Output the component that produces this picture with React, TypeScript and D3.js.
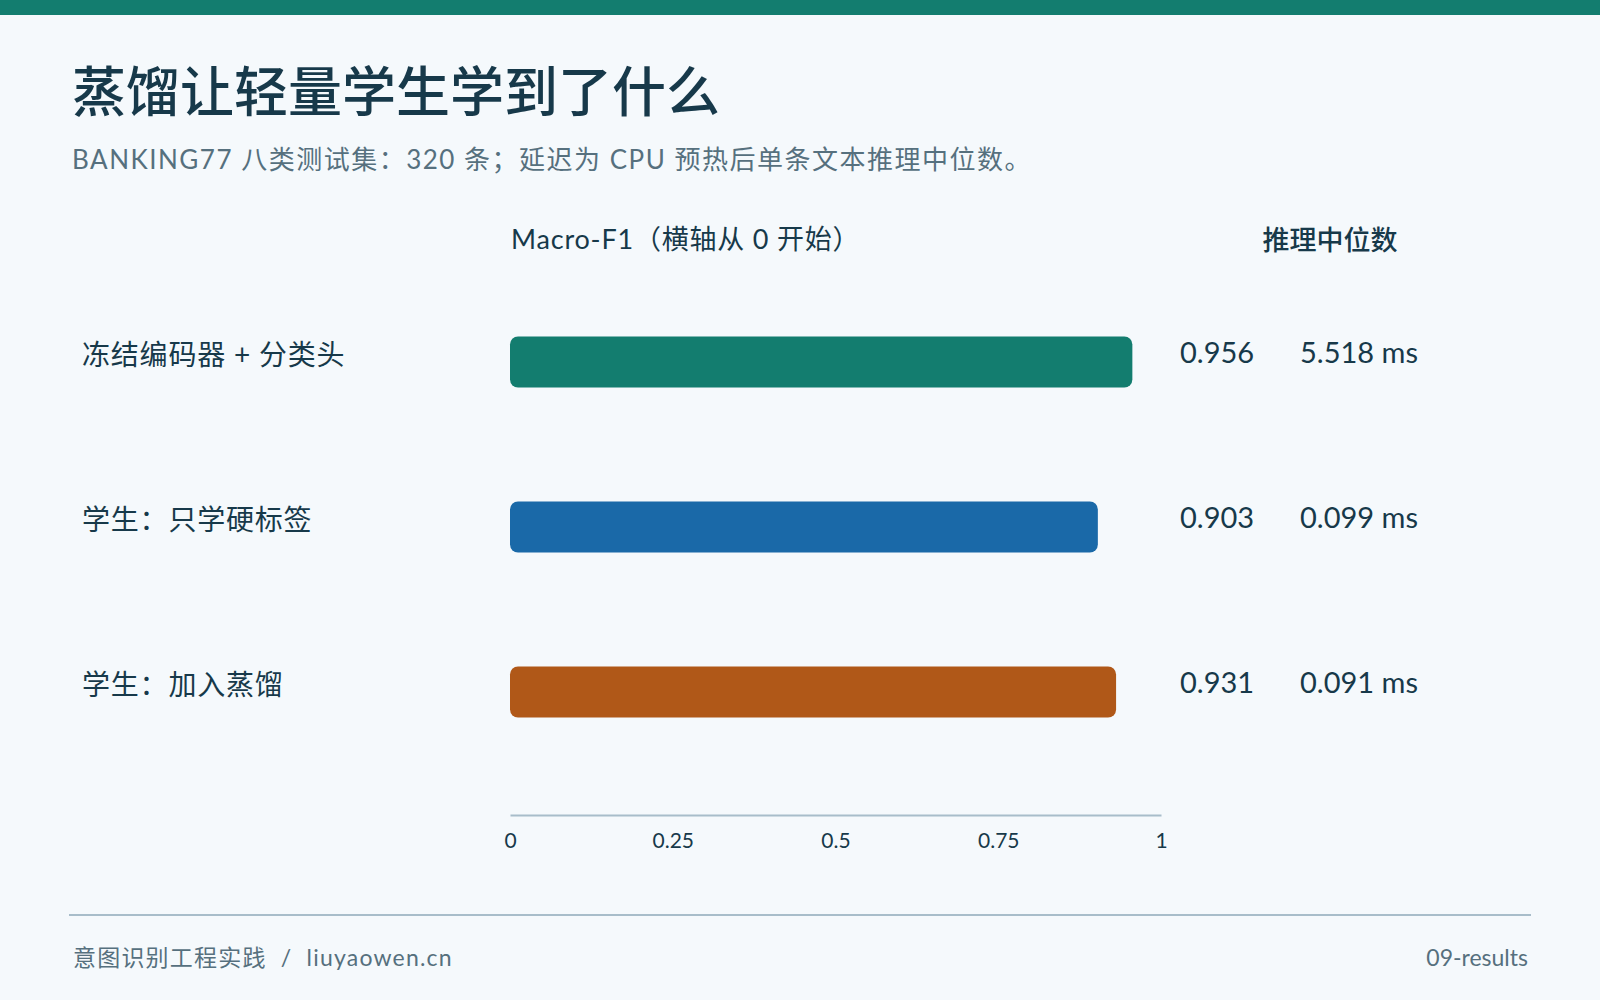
import { useEffect, useRef } from "react";
import * as d3 from "d3";

const categories = ["冻结编码器 + 分类头", "学生：只学硬标签", "学生：加入蒸馏"];
const macroF1 = [0.956, 0.903, 0.931];
const latencyMs = [5.518, 0.099, 0.091];
const barColors = ["#137d6f", "#1a69a8", "#b05818"];
const tickValues = [0, 0.25, 0.5, 0.75, 1];
const tickLabels = ["0", "0.25", "0.5", "0.75", "1"];

const FONT = "Lato, 'Noto Sans CJK SC', 'Noto Sans', sans-serif";
const INK = "#17394a";
const MUTED = "#56707e";
const RULE = "#a8bdca";

export default function App() {
    const ref = useRef<SVGSVGElement | null>(null);

    useEffect(() => {
        if (!ref.current) return;
        const width = 1600;
        const height = 1000;

        const svg = d3.select(ref.current);
        svg.selectAll("*").remove();
        svg.attr("width", width).attr("height", height).style("font-family", FONT);

        svg.append("rect").attr("width", width).attr("height", height).attr("fill", "#f5f9fc");
        svg.append("rect").attr("width", width).attr("height", 15).attr("fill", "#137d6f");

        svg.append("text")
            .attr("x", 72).attr("y", 112)
            .attr("font-size", 54).attr("font-weight", 500)
            .attr("fill", INK)
            .text("蒸馏让轻量学生学到了什么");

        svg.append("text")
            .attr("x", 72).attr("y", 169)
            .attr("font-size", 26)
            .attr("letter-spacing", 1.5)
            .attr("fill", MUTED)
            .text("BANKING77 八类测试集：320 条；延迟为 CPU 预热后单条文本推理中位数。");

        const x = d3.scaleLinear().domain([0, 1]).range([510, 1161]);
        const y = d3.scalePoint<string>().domain(categories).range([362, 692]);
        const barH = 51;

        svg.append("text")
            .attr("x", 511).attr("y", 249)
            .attr("font-size", 27)
            .attr("letter-spacing", 0.8)
            .attr("fill", INK)
            .text("Macro-F1（横轴从 0 开始）");

        svg.append("text")
            .attr("x", 1330).attr("y", 250)
            .attr("text-anchor", "middle")
            .attr("font-size", 27).attr("font-weight", 500)
            .attr("fill", INK)
            .text("推理中位数");

        const rows = svg.append("g")
            .selectAll("g")
            .data(categories)
            .join("g");

        rows.append("text")
            .attr("x", 82)
            .attr("y", (d) => (y(d) ?? 0) + 3)
            .attr("font-size", 28)
            .attr("letter-spacing", 0.8)
            .attr("fill", INK)
            .text((d) => d);

        rows.append("rect")
            .attr("x", x(0))
            .attr("y", (d) => (y(d) ?? 0) - barH / 2)
            .attr("width", (_, i) => x(macroF1[i]) - x(0))
            .attr("height", barH)
            .attr("rx", 8)
            .attr("fill", (_, i) => barColors[i]);

        rows.append("text")
            .attr("x", 1180)
            .attr("y", (d) => (y(d) ?? 0) + 1)
            .attr("font-size", 29)
            .attr("fill", INK)
            .text((_, i) => macroF1[i].toFixed(3));

        rows.append("text")
            .attr("x", 1300)
            .attr("y", (d) => (y(d) ?? 0) + 1)
            .attr("font-size", 29)
            .attr("fill", INK)
            .text((_, i) => `${latencyMs[i].toFixed(3)} ms`);

        const axis = d3.axisBottom(x)
            .tickValues(tickValues)
            .tickSize(0)
            .tickPadding(18)
            .tickFormat((_, i) => tickLabels[i]);

        const gx = svg.append("g")
            .attr("transform", "translate(0, 815)")
            .call(axis);
        gx.select(".domain").attr("stroke", RULE).attr("stroke-width", 2);
        gx.selectAll(".tick text")
            .attr("font-size", 21)
            .attr("font-family", FONT)
            .attr("fill", INK);

        svg.append("line")
            .attr("x1", 69).attr("x2", 1531)
            .attr("y1", 915).attr("y2", 915)
            .attr("stroke", RULE).attr("stroke-width", 2);

        svg.append("text")
            .attr("x", 73).attr("y", 966)
            .attr("font-size", 23)
            .attr("letter-spacing", 1.2)
            .attr("fill", MUTED)
            .text("意图识别工程实践  /  liuyaowen.cn")
            .attr("xml:space", "preserve")
            .style("white-space", "pre");

        svg.append("text")
            .attr("x", 1528).attr("y", 966)
            .attr("text-anchor", "end")
            .attr("font-size", 23)
            .attr("fill", MUTED)
            .text("09-results");
    }, []);

    return (
        <svg
            ref={(el) => { if (el) ref.current = el; }}
            style={{ display: "block", position: "absolute", left: 0, top: 0 }}
        />
    );
}
